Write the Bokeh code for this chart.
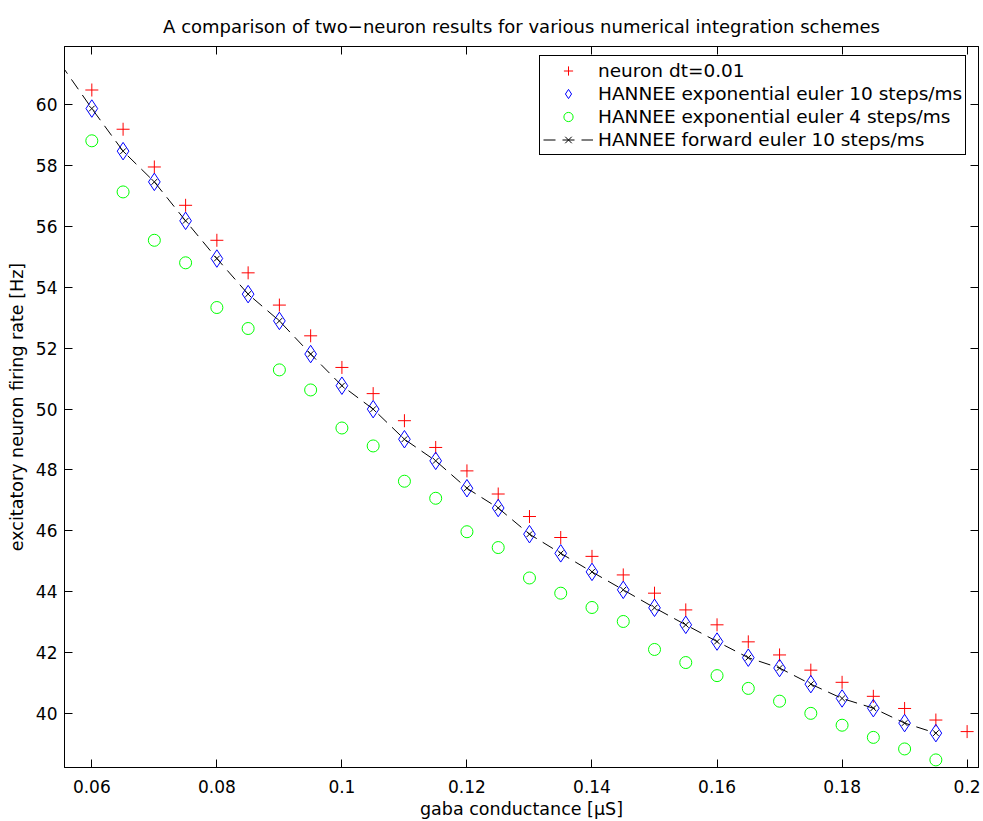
from bokeh.plotting import figure
from bokeh.models import (Range1d, LinearAxis, FixedTicker, Legend, LegendItem,
                          ColumnDataSource, CustomJSTickFormatter)
from bokeh.embed import file_html
from bokeh.resources import INLINE

# ---------------- data ----------------
title_text = "A comparison of two\u2212neuron results for various numerical integration schemes"
x_label = "gaba conductance [\u03bcS]"
y_label = "excitatory neuron firing rate [Hz]"

x_neuron = [0.06, 0.065, 0.07, 0.075, 0.08, 0.085, 0.09, 0.095, 0.1, 0.105,
            0.11, 0.115, 0.12, 0.125, 0.13, 0.135, 0.14, 0.145, 0.15, 0.155,
            0.16, 0.165, 0.17, 0.175, 0.18, 0.185, 0.19, 0.195, 0.2]
neuron_dt001 = [60.49, 59.20, 57.96, 56.70, 55.55, 54.48, 53.42, 52.41, 51.37, 50.51,
                49.62, 48.74, 47.97, 47.21, 46.47, 45.78, 45.16, 44.55, 43.95, 43.40,
                42.91, 42.35, 41.92, 41.42, 41.02, 40.56, 40.16, 39.78, 39.40]

x_hannee = [0.06, 0.065, 0.07, 0.075, 0.08, 0.085, 0.09, 0.095, 0.1, 0.105,
            0.11, 0.115, 0.12, 0.125, 0.13, 0.135, 0.14, 0.145, 0.15, 0.155,
            0.16, 0.165, 0.17, 0.175, 0.18, 0.185, 0.19, 0.195]
exp_euler_10 = [59.88, 58.48, 57.47, 56.19, 54.95, 53.78, 52.90, 51.81, 50.77, 50.00,
                49.01, 48.30, 47.40, 46.75, 45.89, 45.26, 44.65, 44.06, 43.47, 42.91,
                42.36, 41.83, 41.49, 40.96, 40.49, 40.17, 39.68, 39.35]
exp_euler_4 = [58.82, 57.14, 55.55, 54.81, 53.34, 52.65, 51.29, 50.63, 49.38, 48.79,
               47.63, 47.07, 45.97, 45.45, 44.45, 43.95, 43.48, 43.02, 42.10, 41.67,
               41.24, 40.82, 40.40, 40.00, 39.61, 39.21, 38.83, 38.47]

x_forward = [0.055, 0.06, 0.065, 0.07, 0.075, 0.08, 0.085, 0.09, 0.095, 0.1, 0.105,
             0.11, 0.115, 0.12, 0.125, 0.13, 0.135, 0.14, 0.145, 0.15, 0.155,
             0.16, 0.165, 0.17, 0.175, 0.18, 0.185, 0.19, 0.195]
fwd_euler_10 = [61.35, 59.88, 58.48, 57.47, 56.19, 54.95, 53.78, 52.90, 51.81, 50.77, 50.00,
                49.01, 48.30, 47.40, 46.75, 45.89, 45.26, 44.65, 44.06, 43.47, 42.91,
                42.36, 41.83, 41.49, 40.96, 40.49, 40.17, 39.68, 39.35]

series_labels = ["neuron dt=0.01",
                 "HANNEE exponential euler 10 steps/ms",
                 "HANNEE exponential euler 4 steps/ms",
                 "HANNEE forward euler 10 steps/ms"]

x_ticks = [0.06, 0.08, 0.1, 0.12, 0.14, 0.16, 0.18, 0.2]
x_tick_labels = ["0.06", "0.08", "0.1", "0.12", "0.14", "0.16", "0.18", "0.2"]
y_ticks = [40, 42, 44, 46, 48, 50, 52, 54, 56, 58, 60]
y_tick_labels = [str(v) for v in y_ticks]

x_lim = (0.05563, 0.20182)
y_lim = (38.22, 61.92)

FONT = "DejaVu Sans"
FS = "17px"
FS_BIG = "18px"

# ---------------- figure ----------------
p = figure(width=983, height=821, output_backend="svg", toolbar_location=None,
           x_range=Range1d(*x_lim), y_range=Range1d(*y_lim),
           min_border_left=64, min_border_right=5, min_border_top=46, min_border_bottom=54,
           title=title_text)
p.title.align = "center"
p.title.text_font = FONT
p.title.text_font_size = FS_BIG
p.title.text_font_style = "normal"
p.title.text_color = "black"
p.title.standoff = 19

p.background_fill_color = "white"
p.border_fill_color = "white"
p.outline_line_color = "black"
p.outline_line_alpha = 1
p.outline_line_width = 1
p.xgrid.visible = False
p.ygrid.visible = False


def style_axis(ax, ticks, labels, show_labels):
    ax.ticker = FixedTicker(ticks=ticks)
    ax.minor_tick_line_color = None
    ax.major_tick_in = 8
    ax.major_tick_out = 0
    ax.major_tick_line_color = "black"
    ax.axis_line_color = "black"
    ax.major_label_text_font = FONT
    ax.major_label_text_font_size = FS
    ax.major_label_text_color = "black"
    ax.axis_label_text_font = FONT
    ax.axis_label_text_font_size = "17.5px"
    ax.axis_label_text_font_style = "normal"
    ax.axis_label_text_color = "black"
    if show_labels:
        ax.major_label_overrides = {t: l for t, l in zip(ticks, labels)}
    else:
        ax.formatter = CustomJSTickFormatter(code="return '';")
        ax.major_label_text_font_size = "0px"
        ax.major_label_standoff = 0


xa = p.xaxis[0]
ya = p.yaxis[0]
style_axis(xa, x_ticks, x_tick_labels, True)
style_axis(ya, y_ticks, y_tick_labels, True)
xa.axis_label = x_label
ya.axis_label = y_label
xa.major_label_standoff = 12
ya.major_label_standoff = 7
xa.axis_label_standoff = 3
ya.axis_label_standoff = 6

top_ax = LinearAxis()
right_ax = LinearAxis()
style_axis(top_ax, x_ticks, x_tick_labels, False)
style_axis(right_ax, y_ticks, y_tick_labels, False)
p.add_layout(top_ax, "above")
p.add_layout(right_ax, "right")

# ---------------- glyphs ----------------
src_n = ColumnDataSource(dict(x=x_neuron, y=neuron_dt001))
src_h = ColumnDataSource(dict(x=x_hannee, y10=exp_euler_10, y4=exp_euler_4))
src_f = ColumnDataSource(dict(x=x_forward, y=fwd_euler_10))

r_plus = p.scatter("x", "y", source=src_n, marker="cross", size=13,
                   line_color="#ff0000", line_width=1)
r_diam = p.scatter("x", "y10", source=src_h, marker="diamond", size=17.5,
                   line_color="#0000ff", fill_color=None, line_width=1)
r_circ = p.scatter("x", "y4", source=src_h, marker="circle", size=12,
                   line_color="#00ff00", fill_color=None, line_width=1)
r_line = p.line("x", "y", source=src_f, line_color="black", line_width=1,
                line_dash="12 7")
r_x = p.scatter("x", "y", source=src_f, marker="x", size=8,
                line_color="black", line_width=1)

legend = Legend(items=[
    LegendItem(label=series_labels[0], renderers=[r_plus]),
    LegendItem(label=series_labels[1], renderers=[r_diam]),
    LegendItem(label=series_labels[2], renderers=[r_circ]),
    LegendItem(label=series_labels[3], renderers=[r_line, r_x]),
])
legend.location = (475, 612)
legend.padding = 3
legend.margin = 0
legend.spacing = 0
legend.glyph_width = 50
legend.glyph_height = 23
legend.label_height = 23
legend.label_standoff = 5
legend.label_text_font = FONT
legend.label_text_font_size = "18.5px"
legend.label_text_color = "black"
legend.border_line_color = "black"
legend.border_line_width = 1
legend.border_line_alpha = 1
legend.background_fill_color = "white"
legend.background_fill_alpha = 1
p.add_layout(legend, "center")

open("out.html", "w").write(file_html(p, INLINE))
